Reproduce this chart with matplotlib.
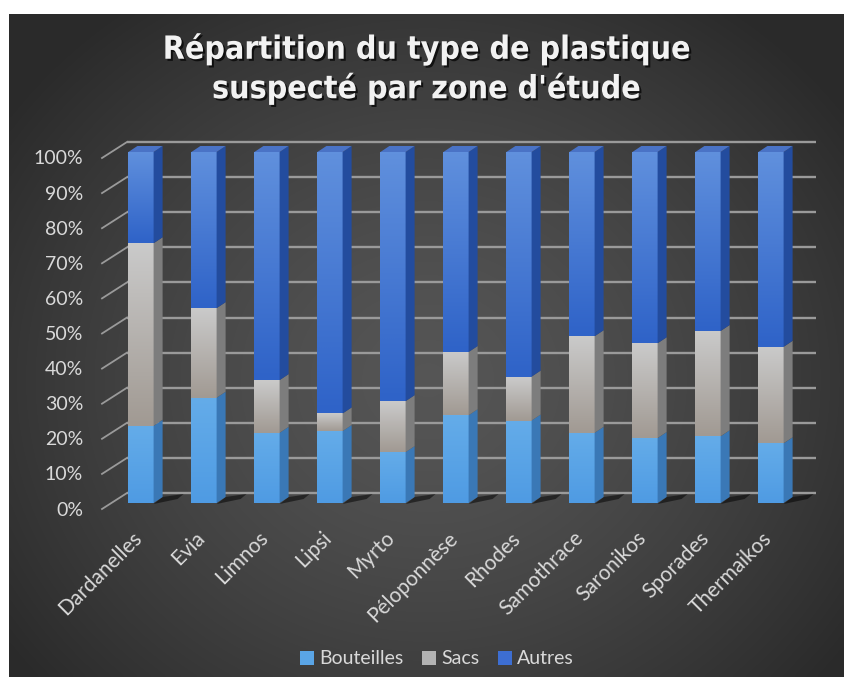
import numpy as np
import matplotlib
matplotlib.use("Agg")
import matplotlib.pyplot as plt
from matplotlib.colors import LinearSegmentedColormap
from matplotlib.patches import Polygon, Patch
from matplotlib import font_manager
import matplotlib.patheffects as pe

# ---------------- data ----------------
zones = ["Dardanelles", "Evia", "Limnos", "Lipsi", "Myrto", "Péloponnèse",
         "Rhodes", "Samothrace", "Saronikos", "Sporades", "Thermaikos"]
bouteilles = [22, 30, 20, 20.5, 14.5, 25, 23.5, 20, 18.5, 19, 17]
sacs = [52, 25.5, 15, 5, 14.5, 18, 12.5, 27.5, 27, 30, 27.5]
autres = [26, 44.5, 65, 74.5, 71, 57, 64, 52.5, 54.5, 51, 55.5]
series_names = ["Bouteilles", "Sacs", "Autres"]
yticks = [0, 10, 20, 30, 40, 50, 60, 70, 80, 90, 100]
ytick_labels = [f"{v}%" for v in yticks]
title = "Répartition du type de plastique\nsuspecté par zone d'étude"

# ---------------- style ----------------
W, H = 844, 677
front_top = ["#64ace9", "#cacaca", "#6090dd"]
front_bot = ["#4f9be3", "#a19a93", "#2f63c8"]
side_col = ["#3a78b6", "#7d7d7d", "#234c9e"]
top_col = ["#74b4ec", "#d6d6d6", "#4a73c6"]
legend_col = ["#5aa5e6", "#b3b3b3", "#3d6ed2"]
text_col = "#d9d9d9"
lab_font = ["Lato", "DejaVu Sans"]

# pick a condensed bold font for the title if one is installed
ttf = font_manager.fontManager.ttflist
title_kw = dict(family=["Roboto", "DejaVu Sans"], fontsize=21)
if any(f.name == "Liberation Sans Narrow" for f in ttf):
    title_kw = dict(family=["Liberation Sans Narrow", "DejaVu Sans"], fontsize=24)
elif any(f.name == "DejaVu Sans" and str(f.stretch) in ("condensed", "semi-condensed")
         for f in ttf):
    title_kw = dict(family=["DejaVu Sans"], fontstretch="condensed", fontsize=23)

fig = plt.figure(figsize=(W / 100, H / 100), dpi=100, facecolor="white")

# background panel with radial gradient
bg = fig.add_axes([9 / W, 0, (W - 9) / W, (H - 14) / H])
bg.set_axis_off()
ny, nx = 200, 250
yy, xx = np.mgrid[0:ny, 0:nx]
cx, cy = nx * 0.5, ny * 0.55
r = np.sqrt(((xx - cx) / (nx * 0.62)) ** 2 + ((yy - cy) / (ny * 0.70)) ** 2)
r = np.clip(r, 0, 1)
c_center, c_edge = 0.335, 0.165
img = c_center - (c_center - c_edge) * r ** 1.4
bg.imshow(np.dstack([img, img, img]), extent=[0, 1, 0, 1], aspect="auto",
          origin="upper", interpolation="bicubic")
bg.set_xlim(0, 1)
bg.set_ylim(0, 1)

# main axes (pixel box 60..830 x 140..520)
L, R, T, B = 60, 830, 140, 520
ax = fig.add_axes([L / W, 1 - B / H, (R - L) / W, (B - T) / H])
ax.set_facecolor("none")
ax.set_axis_off()
x0_px, step_px = 141, 63
y0_px, ypp = 503, 3.51
XLIM = ((L - x0_px) / step_px, (R - x0_px) / step_px)
YLIM = ((y0_px - B) / ypp, (y0_px - T) / ypp)
ax.set_xlim(*XLIM)
ax.set_ylim(*YLIM)

fig.canvas.draw()
p0 = ax.transData.transform((0, 0))
p1 = ax.transData.transform((1, 100))
kx = 1.0 / (p1[0] - p0[0])
ky = 100.0 / (p1[1] - p0[1])
Px = lambda v: v * kx
Py = lambda v: v * ky

x = np.arange(len(zones))
data = np.array([bouteilles, sacs, autres], dtype=float)
pct = data / data.sum(axis=0) * 100

# back wall gridlines and diagonal ticks
back_dy = 10
xl = (127 - x0_px) / step_px
xr = (816 - x0_px) / step_px
grid_col = "#9a9a9a"
for v, lab in zip(yticks, ytick_labels):
    yb = v + Py(back_dy)
    ax.plot([xl, xr], [yb, yb], color=grid_col, lw=1.7, zorder=1,
            solid_capstyle="butt")
    ax.plot([xl, xl - Px(25)], [yb, yb - Py(16)], color=grid_col, lw=1.3, zorder=1)
    ax.text(xl - Px(44), v - Py(7), lab, ha="right", va="center",
            color=text_col, fontsize=14, family=lab_font)

# bars
bw = 0.4
ddx, ddy = Px(9), Py(6)
# floor shadows
for xi in x:
    xr_b = xi + bw / 2
    ax.add_patch(Polygon([(xr_b, Py(-1)), (xr_b + Px(24), Py(4)),
                          (xr_b + Px(30), Py(9)), (xr_b + ddx, ddy)],
                         closed=True, facecolor="black", alpha=0.5,
                         edgecolor="none", zorder=2))

bottoms = np.zeros(len(zones))
for k in range(3):
    vals = pct[k]
    bars = ax.bar(x, vals, bottom=bottoms, width=bw, color=legend_col[k],
                  edgecolor="none", zorder=3, label=series_names[k])
    cmap = LinearSegmentedColormap.from_list("g%d" % k, [front_bot[k], front_top[k]])
    grad = np.linspace(0, 1, 64).reshape(-1, 1)
    for b in bars:
        xa, ya = b.get_x(), b.get_y()
        wb, hb = b.get_width(), b.get_height()
        im = ax.imshow(grad, extent=[xa, xa + wb, ya, ya + hb], origin="lower",
                       cmap=cmap, aspect="auto", zorder=3.1, interpolation="bilinear")
        im.set_clip_path(b)
        # side face
        ax.add_patch(Polygon([(xa + wb, ya), (xa + wb + ddx, ya + ddy),
                              (xa + wb + ddx, ya + hb + ddy), (xa + wb, ya + hb)],
                             closed=True, facecolor=side_col[k], edgecolor="none",
                             zorder=3.2))
    bottoms = bottoms + vals

# top faces
for xi, tot in zip(x, bottoms):
    xa = xi - bw / 2
    ax.add_patch(Polygon([(xa, tot), (xa + ddx, tot + ddy),
                          (xa + bw + ddx, tot + ddy), (xa + bw, tot)],
                         closed=True, facecolor=top_col[2], edgecolor="none",
                         zorder=3.3))

ax.set_xlim(*XLIM)
ax.set_ylim(*YLIM)

# x labels
for xi, z in zip(x, zones):
    ax.text(xi - Px(2), Py(-32), z, rotation=45, ha="right", va="center",
            rotation_mode="anchor", color=text_col, fontsize=15,
            family=lab_font, clip_on=False)

# title
fig.text((9 + W) / 2 / W, 1 - 69 / H, title, ha="center", va="center",
         color="#f2f2f2", fontweight="bold", linespacing=1.25,
         path_effects=[pe.withSimplePatchShadow(offset=(1.5, -1.5),
                                                shadow_rgbFace="black", alpha=0.7)],
         **title_kw)

# legend
handles = [Patch(facecolor=c, edgecolor="none") for c in legend_col]
leg = fig.legend(handles, series_names, loc="center",
                 bbox_to_anchor=(437 / W, 1 - 659 / H), ncol=3, frameon=False,
                 handlelength=0.7, handleheight=0.7, handletextpad=0.25,
                 columnspacing=1.0,
                 prop={"family": lab_font, "size": 14})
for t in leg.get_texts():
    t.set_color(text_col)

fig.savefig("out.png", dpi=100, facecolor="white")
